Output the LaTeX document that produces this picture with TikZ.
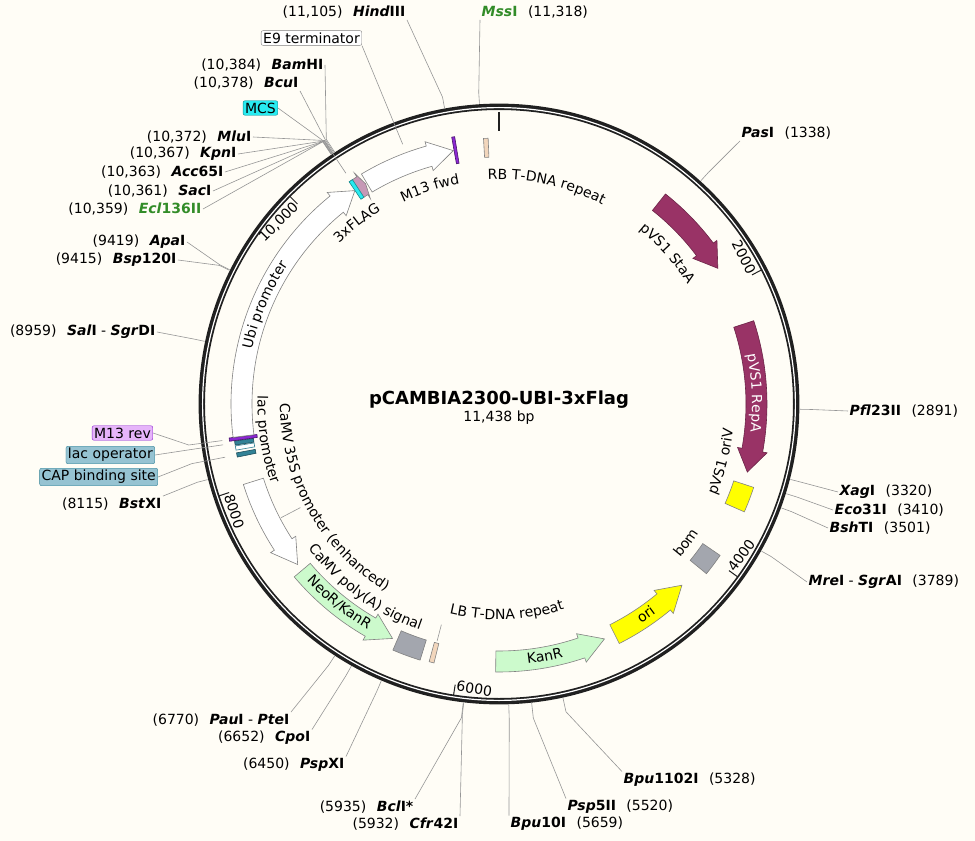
\documentclass[tikz,border=0pt]{standalone}
\usepackage{fontspec}
\setmainfont{DejaVu Sans}
\usepackage{tikz}
\usetikzlibrary{decorations.text}

\definecolor{paper}{RGB}{255,253,246}
\definecolor{ring}{RGB}{32,32,32}
\definecolor{leadgray}{RGB}{150,150,150}
\definecolor{edgegray}{RGB}{130,130,130}
\definecolor{pvs}{RGB}{153,51,102}
\definecolor{kan}{RGB}{204,250,204}
\definecolor{oriyel}{RGB}{255,255,0}
\definecolor{boxgray}{RGB}{163,166,174}
\definecolor{tdna}{RGB}{242,214,188}
\definecolor{mcscyan}{RGB}{40,235,240}
\definecolor{flag}{RGB}{198,152,182}
\definecolor{primer}{RGB}{140,40,210}
\definecolor{laclight}{RGB}{150,195,210}
\definecolor{lacdark}{RGB}{50,130,150}
\definecolor{m13light}{RGB}{230,180,250}
\definecolor{enzgreen}{RGB}{50,140,40}

\newcommand{\bpang}[1]{(90-(#1)*0.031474)}
\newcommand{\enz}[2]{\textbf{\textit{#1}#2}}
\newcommand{\gap}{\hspace{0.75em}}
\newcommand{\lbl}{\fontsize{14}{16}\selectfont}
\newcommand{\site}[3]{\coordinate (#1) at ({\bpang{#2}}:301); \coordinate (#1k) at ({\bpang{#2}}:#3);}
\newcommand{\featbox}[5]{\draw[#1] ({\bpang{#2}}:#4) arc[start angle={\bpang{#2}}, end angle={\bpang{#3}}, radius=#4] -- ({\bpang{#3}}:#5) arc[start angle={\bpang{#3}}, end angle={\bpang{#2}}, radius=#5] -- cycle;}
\newcommand{\featarrow}[4]{\draw[#1] ({\bpang{#2}}:247) arc[start angle={\bpang{#2}}, end angle={\bpang{#3}}, radius=247] -- ({\bpang{#3}}:242.5) -- ({\bpang{#4}}:257.5) -- ({\bpang{#3}}:272.5) -- ({\bpang{#3}}:268) arc[start angle={\bpang{#3}}, end angle={\bpang{#2}}, radius=268] -- cycle;}
\newcommand{\cwlabel}[4][]{\path[decorate, decoration={text along path, text align=center, text={|\lbl|#2}, #1}] ({\bpang{#3}+50}:#4) arc[start angle={\bpang{#3}+50}, end angle={\bpang{#3}-50}, radius=#4];}
\newcommand{\ccwlabel}[4][]{\path[decorate, decoration={text along path, text align=center, text={|\lbl|#2}, #1}] ({\bpang{#3}-50}:#4) arc[start angle={\bpang{#3}-50}, end angle={\bpang{#3}+50}, radius=#4];}

\begin{document}
\begin{tikzpicture}[x=1pt, y=1pt, leader/.style={draw=leadgray, line width=0.6}, enzlbl/.style={font=\lbl, inner sep=1.5pt}, lblbox/.style={font=\lbl, draw, rounded corners=2pt, inner sep=2pt}, tick/.style={draw=ring, line width=1}, tickl/.style={font=\lbl, inner sep=1.5pt}]
	\tikzstyle{feat}=[draw=edgegray, line width=0.6]

	\fill[paper] (-499,-437) rectangle (476,404);
	\useasboundingbox (-499,-437) rectangle (476,404);

	% backbone and scale
	\draw[ring, line width=6.4] (0,0) circle (297.2);
	\draw[white, line width=1.2] (0,0) circle (296.4);
	\draw[ring, line width=2.6] (90:292) -- (90:273);
	\draw[tick] ({\bpang{2000}}:295) -- ({\bpang{2000}}:284);
	\draw[tick] ({\bpang{4000}}:295) -- ({\bpang{4000}}:284);
	\draw[tick] ({\bpang{6000}}:295) -- ({\bpang{6000}}:284);
	\draw[tick] ({\bpang{8000}}:295) -- ({\bpang{8000}}:284);
	\draw[tick] ({\bpang{10000}}:295) -- ({\bpang{10000}}:284);
	\node[tickl, rotate={\bpang{2000}-90}, anchor=north east] (t2) at ({\bpang{2000}}:292) {2000};
	\node[tickl, rotate={\bpang{4000}+90}, anchor=south west] (t4) at ({\bpang{4000}}:292) {4000};
	\node[tickl, rotate={\bpang{6000}+90}, anchor=south west] (t6) at ({\bpang{6000}}:292) {6000};
	\node[tickl, rotate={\bpang{8000}+90}, anchor=south west] (t8) at ({\bpang{8000}}:292) {8000};
	\node[tickl, rotate={\bpang{10000}-90}, anchor=north east] (t10) at ({\bpang{10000}}:292) {10,000};

	\node[font=\bfseries\fontsize{18}{20}\selectfont] (name) at (0,4) {pCAMBIA2300-UBI-3xFlag};
	\node[font=\lbl] (size) at (0,-14) {11,438 bp};

	% features
	\featarrow{feat, fill=pvs, draw=pvs!70!black}{1220}{1687}{1849}
	\featarrow{feat, fill=pvs, draw=pvs!70!black}{2284}{3187}{3346}
	\featbox{feat, fill=oriyel}{3435}{3613}{247}{268}
	\featbox{feat, fill=boxgray, draw=gray}{3952}{4107}{247}{268}
	\featarrow{feat, fill=oriyel}{4871}{4455}{4280}
	\featarrow{feat, fill=kan}{5741}{5125}{4950}
	\featbox{feat, fill=tdna}{6166}{6200}{247}{267}
	\featbox{feat, fill=boxgray, draw=gray}{6262}{6459}{247}{268}
	\featarrow{feat, fill=kan}{7301}{6669}{6494}
	\featarrow{feat, fill=white}{8022}{7527}{7352}
	\featbox{feat, fill=lacdark, draw=lacdark!60!black}{8213}{8242}{248}{267}
	\featbox{feat, fill=white, draw=lacdark}{8261}{8290}{248}{267}
	\featbox{feat, fill=lacdark, draw=lacdark!60!black}{8296}{8324}{248}{267}
	\featbox{feat, fill=primer, draw=primer!50!black}{8327}{8349}{244}{272}
	\featarrow{feat, fill=white}{8350}{10195}{10355}
	\featarrow{feat, fill=flag}{10362}{10418}{10445}
	\featbox{feat, fill=mcscyan, draw=mcscyan!60!black}{10356}{10383}{247}{268}
	\featarrow{feat, fill=white}{10455}{10936}{11111}
	\featbox{feat, fill=primer, draw=primer!50!black}{11117}{11137}{244}{271}
	\featbox{feat, fill=tdna}{11330}{11362}{247}{266}

	\cwlabel{M13 fwd}{10872}{223.5}
	\cwlabel{3xFLAG}{10224}{226.5}
	\cwlabel{RB T-DNA repeat}{391}{224.5}
	\cwlabel{pVS1 StaA}{1531}{223.5}
	\cwlabel[text color=white]{pVS1 RepA}{2780}{253}
	\ccwlabel{pVS1 oriV}{3320}{235.5}
	\ccwlabel{bom}{4022}{237.5}
	\ccwlabel{ori}{4610}{261.5}
	\ccwlabel{KanR}{5392}{261.5}
	\ccwlabel{LB T-DNA repeat}{5649}{215.5}
	\ccwlabel{CaMV poly(A) signal}{6863}{239.5}
	\ccwlabel{NeoR/KanR}{6952}{261}
	\ccwlabel{CaMV 35S promoter (enhanced)}{7644}{219}
	\ccwlabel{lac promoter}{8299}{241.5}
	\cwlabel{Ubi promoter}{9306}{253}

	\coordinate (lba) at ({\bpang{6183}}:245); \coordinate (lbb) at ({\bpang{6183}}:228);
	\draw[leader] (lba) -- (lbb);
	\coordinate (s35a) at ({\bpang{7702}}:246); \coordinate (s35b) at ({\bpang{7702}}:224);
	\draw[leader] (s35a) -- (s35b);

	% boxed feature labels
	\node[lblbox, fill=white, draw=gray, anchor=east] (e9l) at (-137,366) {E9 terminator};
	\coordinate (e9) at ({\bpang{10790}}:277);
	\draw[leader] (e9l.south east) -- (e9);
	\node[lblbox, fill=mcscyan, draw=mcscyan!60!black, anchor=east] (mcsl) at (-221,296) {MCS};
	\coordinate (mcsk) at ({\bpang{10370}}:314); \coordinate (mcs) at ({\bpang{10370}}:277);
	\draw[leader] (mcsl.east) -- (mcsk) -- (mcs);
	\node[lblbox, fill=m13light, draw=primer, anchor=east] (m13rl) at (-346,-29) {M13 rev};
	\coordinate (m13rk) at ({\bpang{8338}}:313); \coordinate (m13r) at ({\bpang{8338}}:279);
	\draw[leader] (m13rl.east) -- (m13rk) -- (m13r);
	\node[lblbox, fill=laclight, draw=lacdark, anchor=east] (lacol) at (-344,-51) {lac operator};
	\coordinate (lacok) at ({\bpang{8310}}:313); \coordinate (laco) at ({\bpang{8310}}:279);
	\draw[leader] (lacol.east) -- (lacok) -- (laco);
	\node[lblbox, fill=laclight, draw=lacdark, anchor=east] (capl) at (-341,-73) {CAP binding site};
	\coordinate (capk) at ({\bpang{8228}}:313); \coordinate (cap) at ({\bpang{8228}}:279);
	\draw[leader] (capl.east) -- (capk) -- (cap);

	% restriction sites
	\site{hind}{11105}{312} \site{mss}{11318}{312}
	\site{bam}{10384}{316} \site{bcu}{10378}{316} \site{mlu}{10372}{316} \site{kpn}{10367}{316}
	\site{acc}{10363}{316} \site{sac}{10361}{316} \site{ecl}{10359}{316}
	\site{apa}{9419}{312} \site{bsp}{9415}{312} \site{sal}{8959}{312} \site{bst}{8115}{312}
	\site{pas}{1338}{312} \site{pfl}{2891}{312} \site{xag}{3320}{312} \site{eco}{3410}{312}
	\site{bsh}{3501}{312} \site{mre}{3789}{312}
	\site{bpue}{5328}{315} \site{pspf}{5520}{316} \site{bput}{5659}{316} \site{cfr}{5932}{312}
	\site{bcl}{5935}{316} \site{pspx}{6450}{312} \site{cpo}{6652}{312} \site{pau}{6770}{312}

	\node[enzlbl, anchor=east] (hindl) at (-92,392) {(11,105)\gap\enz{Hind}{III}};
	\node[enzlbl, anchor=west] (mssl) at (-19,392) {\textcolor{enzgreen}{\enz{Mss}{I}}\gap(11,318)};
	\node[enzlbl, anchor=east] (baml) at (-174,339) {(10,384)\gap\enz{Bam}{HI}};
	\node[enzlbl, anchor=east] (bcul) at (-199,321) {(10,378)\gap\enz{Bcu}{I}};
	\node[enzlbl, anchor=east] (mlul) at (-246,267) {(10,372)\gap\enz{Mlu}{I}};
	\node[enzlbl, anchor=east] (kpnl) at (-261,250) {(10,367)\gap\enz{Kpn}{I}};
	\node[enzlbl, anchor=east] (accl) at (-274,232) {(10,363)\gap\enz{Acc}{65I}};
	\node[enzlbl, anchor=east] (sacl) at (-286,213) {(10,361)\gap\enz{Sac}{I}};
	\node[enzlbl, anchor=east] (ecll) at (-296,195) {(10,359)\gap\textcolor{enzgreen}{\enz{Ecl}{136II}}};
	\node[enzlbl, anchor=east] (apal) at (-312,162) {(9419)\gap\enz{Apa}{I}};
	\node[enzlbl, anchor=east] (bspl) at (-321,144) {(9415)\gap\enz{Bsp}{120I}};
	\node[enzlbl, anchor=east] (sall) at (-342,72) {(8959)\gap\enz{Sal}{I} - \enz{Sgr}{DI}};
	\node[enzlbl, anchor=east] (bstl) at (-336,-100) {(8115)\gap\enz{Bst}{XI}};
	\node[enzlbl, anchor=west] (pasl) at (241,271) {\enz{Pas}{I}\gap(1338)};
	\node[enzlbl, anchor=west] (pfll) at (349,-7) {\enz{Pfl}{23II}\gap(2891)};
	\node[enzlbl, anchor=west] (xagl) at (339,-88) {\enz{Xag}{I}\gap(3320)};
	\node[enzlbl, anchor=west] (ecol) at (334,-106) {\enz{Eco}{31I}\gap(3410)};
	\node[enzlbl, anchor=west] (bshl) at (329,-124) {\enz{Bsh}{TI}\gap(3501)};
	\node[enzlbl, anchor=west] (mrel) at (308,-178) {\enz{Mre}{I} - \enz{Sgr}{AI}\gap(3789)};
	\node[enzlbl, anchor=west] (bpuel) at (123,-376) {\enz{Bpu}{1102I}\gap(5328)};
	\node[enzlbl, anchor=west] (pspfl) at (67,-403) {\enz{Psp}{5II}\gap(5520)};
	\node[enzlbl, anchor=west] (bputl) at (10,-420) {\enz{Bpu}{10I}\gap(5659)};
	\node[enzlbl, anchor=east] (cfrl) at (-39,-420) {(5932)\gap\enz{Cfr}{42I}};
	\node[enzlbl, anchor=east] (bcll) at (-84,-403) {(5935)\gap\enz{Bcl}{I*}};
	\node[enzlbl, anchor=east] (pspxl) at (-153,-361) {(6450)\gap\enz{Psp}{XI}};
	\node[enzlbl, anchor=east] (cpol) at (-187,-334) {(6652)\gap\enz{Cpo}{I}};
	\node[enzlbl, anchor=east] (paul) at (-208,-316) {(6770)\gap\enz{Pau}{I} - \enz{Pte}{I}};

	\draw[leader] (hind) -- (hindk) -- (hindl.south east);
	\draw[leader] (mss) -- (mssk) -- (mssl.south west);
	\draw[leader] (bam) -- (bamk) -- (baml.east);
	\draw[leader] (bcu) -- (bcuk) -- (bcul.south east);
	\draw[leader] (mlu) -- (mluk) -- (mlul.east);
	\draw[leader] (kpn) -- (kpnk) -- (kpnl.east);
	\draw[leader] (acc) -- (acck) -- (accl.east);
	\draw[leader] (sac) -- (sack) -- (sacl.east);
	\draw[leader] (ecl) -- (eclk) -- (ecll.east);
	\draw[leader] (apa) -- (apak) -- (apal.east);
	\draw[leader] (bsp) -- (bspk) -- (bspl.east);
	\draw[leader] (sal) -- (salk) -- (sall.east);
	\draw[leader] (bst) -- (bstk) -- (bstl.north east);
	\draw[leader] (pas) -- (pask) -- (pasl.south west);
	\draw[leader] (pfl) -- (pflk) -- (pfll.west);
	\draw[leader] (xag) -- (xagk) -- (xagl.west);
	\draw[leader] (eco) -- (ecok) -- (ecol.west);
	\draw[leader] (bsh) -- (bshk) -- (bshl.west);
	\draw[leader] (mre) -- (mrek) -- (mrel.west);
	\draw[leader] (bpue) -- (bpuek) -- (bpuel.north west);
	\draw[leader] (pspf) -- (pspfk) -- (pspfl.north west);
	\draw[leader] (bput) -- (bputk) -- (bputl.north west);
	\draw[leader] (cfr) -- (cfrk) -- (cfrl.north east);
	\draw[leader] (bcl) -- (bclk) -- (bcll.north east);
	\draw[leader] (pspx) -- (pspxk) -- (pspxl.north east);
	\draw[leader] (cpo) -- (cpok) -- (cpol.north east);
	\draw[leader] (pau) -- (pauk) -- (paul.north east);
\end{tikzpicture}
\end{document}
